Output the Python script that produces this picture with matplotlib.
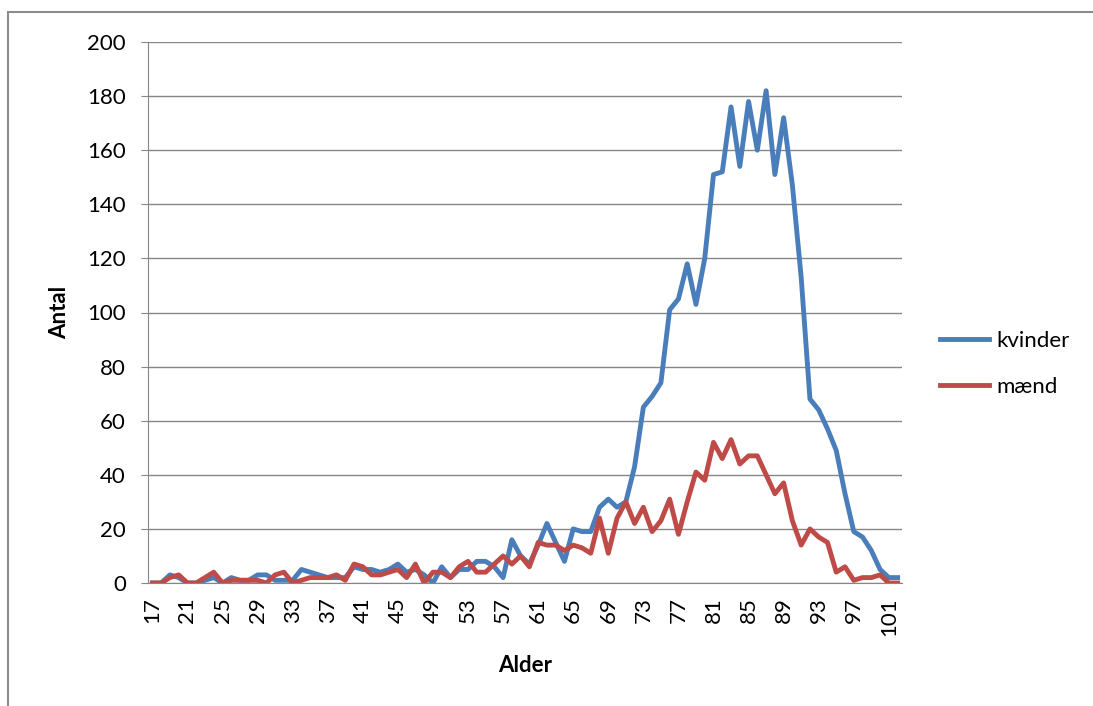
import numpy as np
import matplotlib.pyplot as plt
from matplotlib.patches import Rectangle

plt.rcParams['font.family'] = ['Lato', 'DejaVu Sans']

# alder 17..102
alder = list(range(17, 103))
kvinder = [0, 0, 3, 2, 0, 0, 1, 2, 0, 2, 1, 1, 3, 3, 1, 1, 1, 5, 4, 3,
           2, 2, 2, 6, 5, 5, 4, 5, 7, 4, 5, 3, 0, 6, 2, 5, 5, 8, 8, 6,
           2, 16, 10, 7, 14, 22, 15, 8, 20, 19, 19, 28, 31, 28, 30, 43, 65, 69, 74, 101,
           105, 118, 103, 120, 151, 152, 176, 154, 178, 160, 182, 151, 172, 147, 113, 68, 64, 57, 49, 33,
           19, 17, 12, 5, 2, 2]
maend = [0, 0, 2, 3, 0, 0, 2, 4, 0, 1, 1, 1, 1, 0, 3, 4, 0, 1, 2, 2,
         2, 3, 1, 7, 6, 3, 3, 4, 5, 2, 7, 0, 4, 4, 2, 6, 8, 4, 4, 7,
         10, 7, 10, 6, 15, 14, 14, 12, 14, 13, 11, 24, 11, 24, 30, 22, 28, 19, 23, 31,
         18, 30, 41, 38, 52, 46, 53, 44, 47, 47, 40, 33, 37, 23, 14, 20, 17, 15, 4, 6,
         1, 2, 2, 3, 0, 0]
yticks = list(range(0, 201, 20))
xlabels = alder[::4]

W, H = 1093, 706
fig = plt.figure(figsize=(W / 100, H / 100), dpi=100)

# ramme om diagrammet
fig.patches.append(Rectangle((8 / W, -0.1), 1.2, 1.1 - 12 / H, transform=fig.transFigure,
                             fill=False, edgecolor='#8c8c8c', linewidth=1.5))

ax = fig.add_axes([148 / W, 1 - 583 / H, (902 - 148) / W, (583 - 42) / H])

ax.plot(alder, kvinder, color='#4A7EBB', lw=3.5, label='kvinder', solid_joinstyle='round')
ax.plot(alder, maend, color='#BE4B48', lw=3.5, label='mænd', solid_joinstyle='round')

ax.set_xlim(16.5, 102.5)
ax.set_ylim(0, 200)
ax.set_yticks(yticks)
ax.set_xticks(xlabels)
ax.set_xticklabels([str(a) for a in xlabels], rotation=90)
ax.tick_params(axis='y', length=5, color='#868686', labelsize=16, pad=11)
ax.tick_params(axis='x', length=0, labelsize=16, pad=10)
ax.grid(axis='y', color='#868686', lw=1)
ax.set_axisbelow(True)
for s in ['top', 'right']:
    ax.spines[s].set_visible(False)
for s in ['left', 'bottom']:
    ax.spines[s].set_color('#868686')

ax.set_ylabel('Antal', fontsize=16, fontweight='bold', va='center')
ax.yaxis.set_label_coords(-0.117, 0.5)
ax.set_xlabel('Alder', fontsize=16, fontweight='bold', va='center')
ax.xaxis.set_label_coords(0.5, -0.152)

ax.legend(loc='center left', bbox_to_anchor=(1.05, 0.405), frameon=False, fontsize=16,
          handlelength=2.2, labelspacing=1.15, handletextpad=0.35,
          borderaxespad=0, borderpad=0)

plt.savefig('out.png', dpi=100)
